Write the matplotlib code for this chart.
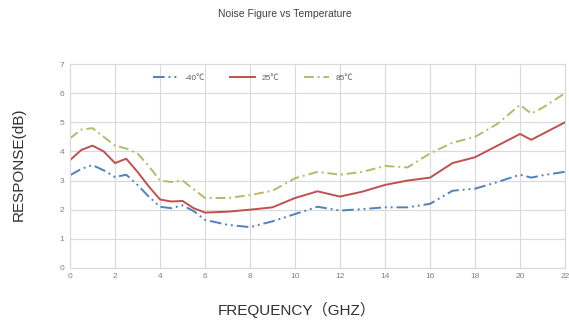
import numpy as np
import matplotlib.pyplot as plt

plt.rcParams['font.family'] = ['Liberation Sans', 'Noto Sans CJK SC', 'DejaVu Sans']

freq = [0, 0.5, 1, 1.5, 2, 2.5, 3, 3.5, 4, 4.5, 5, 5.5, 6, 7, 8, 9, 10,
        11, 12, 13, 14, 15, 16, 17, 18, 19, 20, 20.5, 21, 22]
nf_m40 = [3.18, 3.4, 3.53, 3.35, 3.12, 3.2, 2.85, 2.45, 2.1, 2.05, 2.15, 1.95, 1.65, 1.48, 1.4,
          1.6, 1.85, 2.1, 1.97, 2.02, 2.08, 2.08, 2.2, 2.65, 2.72, 2.95, 3.2, 3.1, 3.18, 3.3]
nf_25 = [3.7, 4.05, 4.2, 4.0, 3.6, 3.75, 3.3, 2.8, 2.35, 2.28, 2.3, 2.05, 1.9, 1.93, 2.0,
         2.08, 2.4, 2.63, 2.45, 2.62, 2.85, 3.0, 3.1, 3.6, 3.8, 4.2, 4.6, 4.4, 4.6, 5.0]
nf_85 = [4.45, 4.75, 4.8, 4.5, 4.2, 4.1, 3.93, 3.5, 3.0, 2.95, 3.0, 2.7, 2.4, 2.4, 2.5,
         2.65, 3.08, 3.3, 3.2, 3.3, 3.5, 3.45, 3.93, 4.3, 4.5, 4.95, 5.6, 5.3, 5.5, 6.0]
labels = ['-40℃', '25℃', '85℃']

fig = plt.figure(figsize=(5.69, 3.22), dpi=100)
ax = fig.add_axes([0.123, 0.168, 0.870, 0.633])

ax.plot(freq, nf_m40, color='#4f81bd', lw=1.4, dashes=[6, 2, 1, 2, 1, 2], label=labels[0])
ax.plot(freq, nf_25, color='#c0504d', lw=1.4, label=labels[1])
ax.plot(freq, nf_85, color='#b5b96a', lw=1.4, dashes=[5, 2, 1, 2], label=labels[2])

ax.set_xlim(0, 22)
ax.set_ylim(0, 7)
ax.set_xticks(np.arange(0, 23, 2))
ax.set_yticks(np.arange(0, 8, 1))
ax.grid(True, color='#d9d9d9', lw=0.8)
ax.set_axisbelow(True)
for s in ax.spines.values():
    s.set_color('#d9d9d9')
ax.tick_params(length=0, labelsize=6, colors='#808080', pad=4)

ax.legend(loc='center', bbox_to_anchor=(0.37, 0.93), ncol=3, frameon=False,
          fontsize=6, handlelength=3, columnspacing=3, labelcolor='#606060')

fig.text(0.5, 0.955, 'Noise Figure vs Temperature', ha='center', va='center',
         fontsize=7.5, color='#404040')
fig.text(0.033, 0.49, 'RESPONSE(dB)', rotation=90, ha='center', va='center',
         fontsize=11, color='#303030')
fig.text(0.522, 0.037, 'FREQUENCY（GHZ）', ha='center', va='center',
         fontsize=11, color='#303030')

fig.savefig('out.png', dpi=100)
